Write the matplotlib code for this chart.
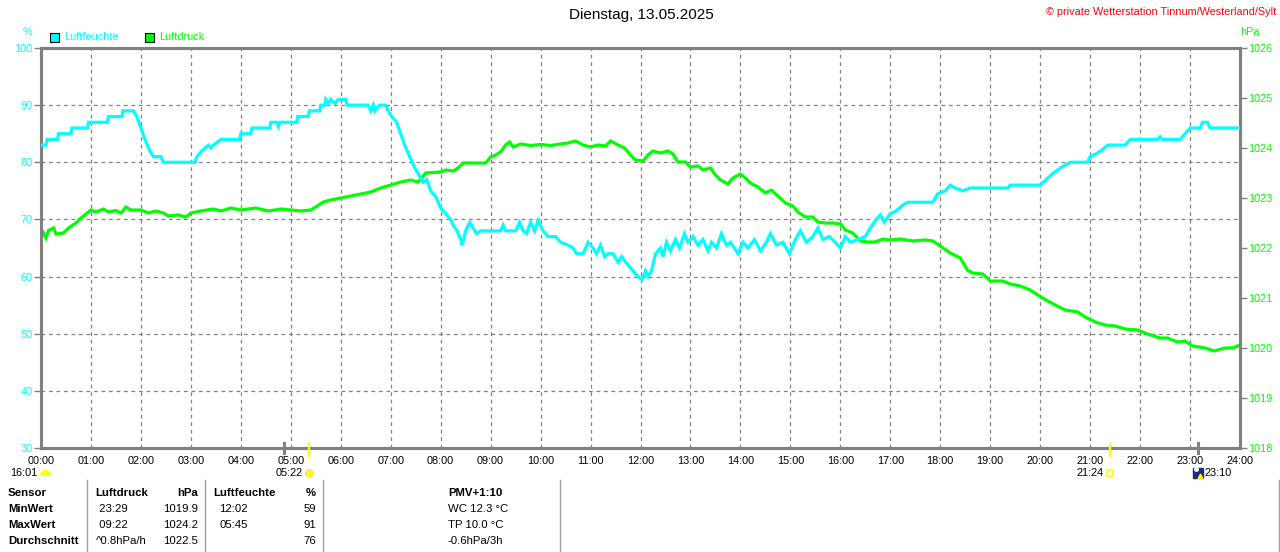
import numpy as np
import matplotlib.pyplot as plt
from matplotlib.patches import Rectangle
from matplotlib.lines import Line2D

plt.rcParams['font.family'] = ['Liberation Sans', 'DejaVu Sans']

# --- data (time in hours) ---
hum_t = [0.00, 0.10, 0.12, 0.33, 0.35, 0.60, 0.62, 0.93, 0.95, 1.33, 1.35, 1.62, 1.64, 1.85,
         1.92, 2.00, 2.08, 2.18, 2.25, 2.40, 2.45, 3.08, 3.12, 3.22, 3.35, 3.40, 3.45, 3.60,
         3.98, 4.00, 4.20, 4.22, 4.58, 4.60, 4.72, 4.75, 4.78, 5.12, 5.14, 5.35, 5.37, 5.58,
         5.60, 5.68, 5.70, 5.75, 5.80, 5.88, 5.95, 6.10, 6.13, 6.55, 6.60, 6.65, 6.68, 6.72,
         6.78, 6.90, 6.95, 7.02, 7.12, 7.20, 7.28, 7.38, 7.48, 7.55, 7.65, 7.72, 7.80, 7.90,
         8.00, 8.10, 8.20, 8.25, 8.33, 8.40, 8.43, 8.50, 8.58, 8.65, 8.72, 8.80, 9.20, 9.25,
         9.30, 9.50, 9.58, 9.65, 9.72, 9.80, 9.88, 9.95, 10.05, 10.15, 10.30, 10.40, 10.55,
         10.65, 10.72, 10.85, 10.95, 11.05, 11.12, 11.20, 11.28, 11.35, 11.45, 11.55, 11.62,
         11.75, 11.85, 11.95, 12.03, 12.10, 12.15, 12.22, 12.30, 12.40, 12.45, 12.52, 12.60,
         12.70, 12.78, 12.88, 12.95, 13.05, 13.15, 13.25, 13.35, 13.42, 13.52, 13.62, 13.72,
         13.80, 13.95, 14.05, 14.15, 14.28, 14.40, 14.52, 14.60, 14.72, 14.85, 14.98, 15.10,
         15.20, 15.32, 15.45, 15.55, 15.65, 15.78, 15.90, 16.00, 16.10, 16.20, 16.35, 16.50,
         16.60, 16.72, 16.80, 16.88, 17.00, 17.12, 17.25, 17.35, 17.85, 17.95, 18.10, 18.20,
         18.30, 18.45, 18.60, 19.35, 19.40, 20.00, 20.12, 20.25, 20.40, 20.60, 20.95, 21.00,
         21.12, 21.22, 21.35, 21.70, 21.80, 22.35, 22.40, 22.45, 22.80, 22.90, 23.00, 23.20,
         23.25, 23.35, 23.40, 24.00]
hum_v = [83, 83, 84, 84, 85, 85, 86, 86, 87, 87, 88, 88, 89, 89,
         88, 86, 84, 82, 81, 81, 80, 80, 81, 82, 83, 82.5, 83, 84,
         84, 85, 85, 86, 86, 87, 87, 86.3, 87, 87, 88, 88, 89, 89,
         90, 90, 91, 90.3, 91, 90.3, 91, 91, 90, 90, 89, 90, 89, 89.5,
         90, 90, 89, 88, 87, 85, 83, 81, 79, 78, 76.5, 77, 75, 74,
         72, 71, 70, 69, 68, 66.5, 65.5, 68, 69.5, 68.5, 67.5, 68, 68, 69,
         68, 68, 69.5, 68, 67.5, 69.5, 68, 69.8, 68, 67, 67, 66, 65.5,
         65, 64, 64, 66, 65, 64, 65.5, 63.5, 64, 64, 62.5, 63.5,
         62, 61, 60, 59.5, 61, 60, 61, 64, 65, 63.5, 66, 64.5,
         66.5, 65, 67.5, 66, 67, 65.5, 66.5, 64.5, 66, 65, 67.5, 65.5,
         66, 64, 66, 65, 66.5, 64.5, 66, 67.5, 65.5, 66, 64, 66.5,
         68, 66, 67, 68.5, 66.5, 67, 66, 65, 67, 66, 66.5, 67,
         68.5, 70, 70.8, 69.5, 71, 71.5, 72.5, 73, 73, 74.5, 75, 76,
         75.5, 75, 75.5, 75.5, 76, 76, 77, 78, 79, 80, 80, 81,
         81.5, 82, 83, 83, 84, 84, 84.5, 84, 84, 85, 86, 86,
         87, 87, 86, 86]

druck_t = [0.00, 0.05, 0.10, 0.15, 0.25, 0.30, 0.45, 0.55, 0.70, 0.80, 0.90, 1.00, 1.10, 1.25,
           1.35, 1.50, 1.60, 1.70, 1.80, 2.00, 2.15, 2.30, 2.45, 2.55, 2.75, 2.90, 3.00, 3.20,
           3.45, 3.60, 3.80, 4.00, 4.30, 4.55, 4.80, 5.00, 5.20, 5.40, 5.50, 5.65, 5.80, 6.00,
           6.20, 6.40, 6.60, 6.80, 7.00, 7.20, 7.40, 7.55, 7.65, 7.70, 8.00, 8.10, 8.25, 8.35,
           8.45, 8.90, 9.00, 9.10, 9.20, 9.30, 9.38, 9.45, 9.60, 9.80, 10.00, 10.20, 10.40,
           10.55, 10.70, 10.85, 11.00, 11.15, 11.30, 11.40, 11.55, 11.68, 11.80, 11.90, 12.05,
           12.15, 12.25, 12.40, 12.55, 12.65, 12.75, 12.90, 13.00, 13.15, 13.25, 13.40, 13.50,
           13.60, 13.75, 13.85, 14.00, 14.10, 14.20, 14.35, 14.50, 14.62, 14.75, 14.90, 15.05,
           15.15, 15.30, 15.45, 15.55, 15.70, 15.85, 16.00, 16.10, 16.25, 16.40, 16.55, 16.70,
           16.85, 17.00, 17.20, 17.45, 17.70, 17.85, 18.00, 18.20, 18.40, 18.55, 18.65, 18.85,
           19.00, 19.25, 19.40, 19.60, 19.80, 19.95, 20.15, 20.30, 20.50, 20.75, 20.90, 21.10,
           21.30, 21.50, 21.70, 21.95, 22.15, 22.40, 22.55, 22.75, 22.90, 23.05, 23.30, 23.48,
           23.70, 23.85, 24.00]
druck_v = [1022.2, 1022.3, 1022.2, 1022.35, 1022.4, 1022.28, 1022.3, 1022.4, 1022.5, 1022.6,
           1022.68, 1022.76, 1022.72, 1022.78, 1022.72, 1022.75, 1022.7, 1022.82, 1022.76,
           1022.76, 1022.7, 1022.74, 1022.7, 1022.64, 1022.66, 1022.62, 1022.7, 1022.74,
           1022.78, 1022.74, 1022.8, 1022.76, 1022.8, 1022.74, 1022.78, 1022.76, 1022.74,
           1022.76, 1022.82, 1022.92, 1022.96, 1023.0, 1023.04, 1023.08, 1023.12, 1023.2,
           1023.26, 1023.32, 1023.36, 1023.32, 1023.44, 1023.5, 1023.52, 1023.56, 1023.54,
           1023.6, 1023.7, 1023.7, 1023.82, 1023.86, 1023.92, 1024.06, 1024.12, 1024.02,
           1024.08, 1024.05, 1024.07, 1024.05, 1024.08, 1024.1, 1024.14, 1024.06, 1024.02,
           1024.06, 1024.04, 1024.14, 1024.06, 1024.0, 1023.86, 1023.76, 1023.74, 1023.86,
           1023.94, 1023.9, 1023.94, 1023.88, 1023.72, 1023.72, 1023.62, 1023.64, 1023.56,
           1023.6, 1023.46, 1023.36, 1023.28, 1023.4, 1023.48, 1023.4, 1023.3, 1023.22,
           1023.1, 1023.16, 1023.04, 1022.9, 1022.84, 1022.72, 1022.62, 1022.62, 1022.52,
           1022.5, 1022.5, 1022.48, 1022.36, 1022.3, 1022.14, 1022.12, 1022.12, 1022.18,
           1022.16, 1022.18, 1022.14, 1022.16, 1022.14, 1022.04, 1021.9, 1021.8, 1021.55,
           1021.5, 1021.48, 1021.34, 1021.34, 1021.28, 1021.24, 1021.16, 1021.06, 1020.94,
           1020.86, 1020.76, 1020.72, 1020.62, 1020.52, 1020.46, 1020.44, 1020.38, 1020.36,
           1020.28, 1020.2, 1020.2, 1020.12, 1020.14, 1020.04, 1020.0, 1019.94, 1020.0,
           1020.0, 1020.06]

hum_ticks = [30, 40, 50, 60, 70, 80, 90, 100]
druck_ticks = [1018, 1019, 1020, 1021, 1022, 1023, 1024, 1025, 1026]
hours = list(range(25))
hour_labels = [f"{h:02d}:00" for h in hours]

# sun / moon events (hours)
sunrise, sunset = 5 + 22/60, 21 + 24/60
moon_a, moon_b = 4 + 52/60, 23 + 10/60

table_rows = ["Sensor", "MinWert", "MaxWert", "Durchschnitt"]
druck_col = [" 23:29", " 09:22", "^0.8hPa/h"]
druck_vals = ["1019.9", "1024.2", "1022.5"]
feuchte_col = ["12:02", "05:45", ""]
feuchte_vals = ["59", "91", "76"]
pmv_col = ["WC 12.3 °C", "TP 10.0 °C", "-0.6hPa/3h"]

CYAN = '#00FFFF'
GREEN = '#00FF00'
GRAY = '#808080'
FS = 7.8
TFS = 8.2

W, H = 1280, 552
def fx(x):
    return x / W
def fy(y):
    return 1 - y / H

fig = plt.figure(figsize=(W / 100, H / 100), dpi=100)
ax = fig.add_axes([fx(41), fy(448), (1240 - 41) / W, 400 / H])
ax2 = ax.twinx()
ax.set_zorder(ax2.get_zorder() + 1)
ax.patch.set_visible(False)

ax.set_xlim(0, 24)
ax.set_ylim(30, 100)
ax2.set_ylim(1018, 1026)

ax.set_axisbelow(True)
ax.grid(True, color=GRAY, linestyle=(0, (3, 3)), linewidth=0.9)

# pressure drawn inside ax, on the hPa scale of ax2
ax.plot(druck_t, druck_v, color=GREEN, linewidth=2.3, transform=ax2.transData,
        solid_joinstyle='miter', zorder=2)
ax.plot(hum_t, hum_v, color=CYAN, linewidth=2.3, solid_joinstyle='miter', zorder=3)

ax.set_xticks(hours)
ax.set_xticklabels(hour_labels)
ax.set_yticks(hum_ticks)
ax2.set_yticks(druck_ticks)
ax.tick_params(axis='x', length=0, pad=6, labelsize=FS)
ax.tick_params(axis='y', length=5, width=1, color=GRAY, labelcolor=CYAN, pad=1, labelsize=FS)
ax2.tick_params(axis='y', length=5, width=1, color=GRAY, labelcolor=GREEN, pad=1, labelsize=FS)

for a in (ax, ax2):
    for s in a.spines.values():
        s.set_color(GRAY)
        s.set_linewidth(2.2)

# event ticks on the time axis
xt = ax.get_xaxis_transform()
for t in (moon_a, moon_b):
    ax.plot([t, t], [0.0125, -0.0125], color=GRAY, linewidth=2.2, transform=xt, clip_on=False, zorder=5)
for t in (sunrise, sunset):
    ax.plot([t, t], [0.01, -0.02], color='#FFFF00', linewidth=1.6, transform=xt, clip_on=False, zorder=6)

ev_y = -0.0625
ax.plot([sunrise], [ev_y], marker='o', markersize=5.5, color='#FFFF00', markeredgecolor='#FFE060',
        transform=xt, clip_on=False)
ax.text(sunrise - 0.12, ev_y, "05:22", ha='right', va='center', fontsize=FS, transform=xt)
ax.plot([sunset], [ev_y], marker='s', markersize=4.5, markerfacecolor='white',
        markeredgecolor='#FFFF00', markeredgewidth=1.2, transform=xt, clip_on=False)
ax.text(sunset - 0.12, ev_y, "21:24", ha='right', va='center', fontsize=FS, transform=xt)
ax.plot([moon_b], [ev_y], marker='s', markersize=7.5, color='#1C2A80', transform=xt, clip_on=False)
ax.plot([moon_b + 0.03], [ev_y - 0.008], marker='^', markersize=3.5, color='#FFFF00',
        transform=xt, clip_on=False)
ax.plot([moon_b - 0.05], [ev_y + 0.01], marker='o', markersize=2.5, color='white',
        transform=xt, clip_on=False)
ax.text(moon_b + 0.13, ev_y, "23:10", ha='left', va='center', fontsize=FS, transform=xt)

fig.text(fx(10), fy(473), "16:01", ha='left', va='center', fontsize=FS)
fig.lines.append(Line2D([fx(45)], [fy(475)], marker='o', markersize=8, color='#FFFF00',
                        fillstyle='top', markerfacecoloralt='none', markeredgewidth=0,
                        transform=fig.transFigure))

# titles and axis units
fig.text(fx(641), fy(15), "Dienstag, 13.05.2025", ha='center', va='center', fontsize=11)
fig.text(fx(1276), fy(12), "© private Wetterstation Tinnum/Westerland/Sylt", ha='right',
         va='center', fontsize=7.8, color='#FF0000')
fig.text(fx(27), fy(32), "%", ha='center', va='center', fontsize=FS, color=CYAN)
fig.text(fx(1250), fy(32), "hPa", ha='center', va='center', fontsize=FS, color=GREEN)

# legend
for lx, label, col in ((50, "Luftfeuchte", CYAN), (145, "Luftdruck", GREEN)):
    fig.patches.append(Rectangle((fx(lx), fy(42)), 9 / W, 9 / H, facecolor=col,
                                 edgecolor='black', linewidth=0.8, transform=fig.transFigure))
    fig.text(fx(lx + 14), fy(37.5), label, ha='left', va='center', fontsize=FS, color=col)

# bottom table
row_y = [493, 509, 525, 541]
for xs in (87, 205, 323, 560, 1279):
    fig.lines.append(Line2D([fx(xs), fx(xs)], [fy(480), fy(552)], color='#A0A0A0',
                            linewidth=1, transform=fig.transFigure))
for i, lab in enumerate(table_rows):
    fig.text(fx(8), fy(row_y[i]), lab, ha='left', va='center', fontsize=TFS, fontweight='bold')
fig.text(fx(95), fy(row_y[0]), "Luftdruck", ha='left', va='center', fontsize=TFS, fontweight='bold')
fig.text(fx(198), fy(row_y[0]), "hPa", ha='right', va='center', fontsize=TFS, fontweight='bold')
fig.text(fx(213), fy(row_y[0]), "Luftfeuchte", ha='left', va='center', fontsize=TFS, fontweight='bold')
fig.text(fx(316), fy(row_y[0]), "%", ha='right', va='center', fontsize=TFS, fontweight='bold')
fig.text(fx(448), fy(row_y[0]), "PMV+1:10", ha='left', va='center', fontsize=TFS, fontweight='bold')
for i in range(3):
    y = fy(row_y[i + 1])
    fig.text(fx(96), y, druck_col[i], ha='left', va='center', fontsize=TFS)
    fig.text(fx(198), y, druck_vals[i], ha='right', va='center', fontsize=TFS)
    fig.text(fx(219), y, feuchte_col[i], ha='left', va='center', fontsize=TFS)
    fig.text(fx(316), y, feuchte_vals[i], ha='right', va='center', fontsize=TFS)
    fig.text(fx(448), y, pmv_col[i], ha='left', va='center', fontsize=TFS)

fig.savefig("out.png", dpi=100)
